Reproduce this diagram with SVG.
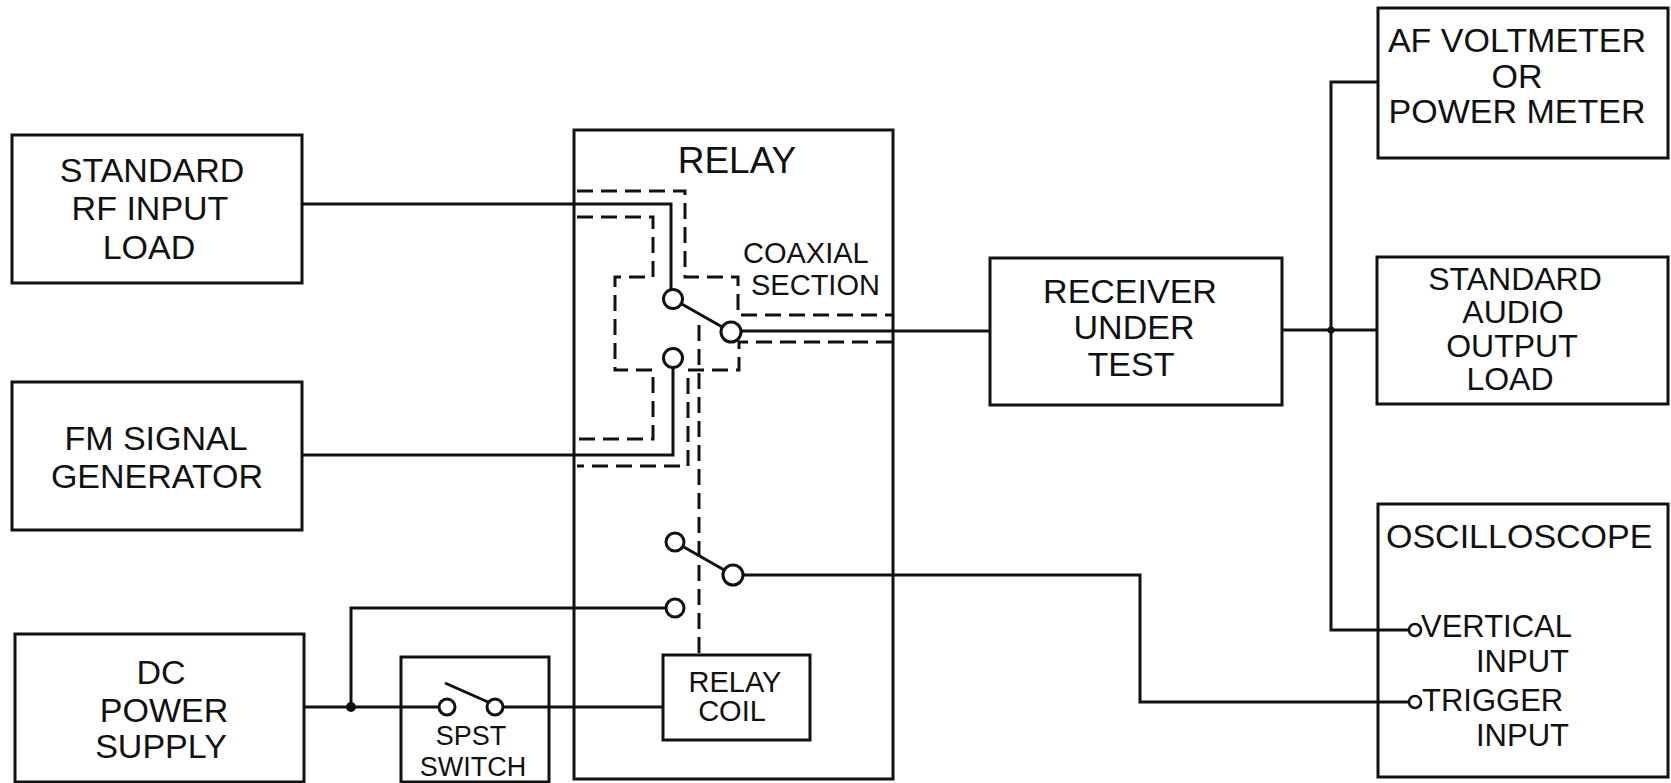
<svg xmlns="http://www.w3.org/2000/svg" width="1671" height="783" viewBox="0 0 1671 783">
<style>
.box{fill:none;stroke:#111;stroke-width:3}
.w{fill:none;stroke:#111;stroke-width:3;stroke-linejoin:miter}
.d{fill:none;stroke:#111;stroke-width:3;stroke-dasharray:16 8}
.c{fill:#fff;stroke:#111;stroke-width:3}
.t{font-family:"Liberation Sans",Arial,sans-serif;fill:#111;font-size:34px}
.m{text-anchor:middle}
.s{font-size:29px}
.k{font-size:32px}
</style>
<rect width="1671" height="783" fill="#fff"/>
<g id="connectors">
  <path class="w" d="M302,204 H671 V289"/>
  <path class="w" d="M302,455 H673 V368"/>
  <line class="w" x1="673" y1="299" x2="731" y2="332"/>
  <path class="w" d="M741,331 H990"/>
  <path class="d" d="M577,191 H685 V277 H738 V315 H892"/>
  <path class="d" d="M577,217 H653 V277 H615 V370 H653 V439 H577"/>
  <path class="d" d="M892,342 H739 V370 H688 V466 H577"/>
  <path class="d" d="M699,325 V655"/>
  <line class="w" x1="675" y1="542" x2="733" y2="575"/>
  <path class="w" d="M743,575 H1140 V702 H1409"/>
  <path class="w" d="M666,608 H351 V707"/>
  <path class="w" d="M304,707 H439"/>
  <path class="w" d="M503,707 H663"/>
  <path class="w" d="M1282,330 H1377"/>
  <path class="w" d="M1378,82 H1331 V630 H1409"/>
  <circle cx="351" cy="707" r="5" fill="#111"/>
  <circle cx="1331" cy="330" r="3.5" fill="#111"/>
</g>
<g id="rf-load">
  <rect class="box" x="12" y="135" width="290" height="148"/>
  <text class="t m" x="152" y="182">STANDARD</text>
  <text class="t m" x="150" y="220">RF INPUT</text>
  <text class="t m" x="149" y="259">LOAD</text>
</g>
<g id="fm-gen">
  <rect class="box" x="12" y="382" width="290" height="148"/>
  <text class="t m" x="156" y="450">FM SIGNAL</text>
  <text class="t m" x="157" y="488">GENERATOR</text>
</g>
<g id="dc-supply">
  <rect class="box" x="15" y="634" width="289" height="148"/>
  <text class="t m" x="161" y="684">DC</text>
  <text class="t m" x="164" y="722">POWER</text>
  <text class="t m" x="161" y="758">SUPPLY</text>
</g>
<g id="spst">
  <rect class="box" x="401" y="657" width="148" height="125"/>
  <circle class="c" cx="447" cy="707" r="8"/>
  <circle class="c" cx="495" cy="707" r="8"/>
  <line class="w" x1="445" y1="683" x2="488" y2="702"/>
  <text class="t m" x="471" y="745" style="font-size:27px">SPST</text>
  <text class="t m" x="473" y="776" style="font-size:27px">SWITCH</text>
</g>
<g id="relay">
  <rect class="box" x="574" y="130" width="319" height="649"/>
  <text class="t m" x="737" y="173" style="font-size:37px">RELAY</text>
  <text class="t s" x="743" y="263">COAXIAL</text>
  <text class="t s" x="751" y="295">SECTION</text>
  <circle class="c" cx="673" cy="299" r="9.5"/>
  <circle class="c" cx="731" cy="332" r="10"/>
  <circle class="c" cx="673" cy="358" r="9.5"/>
  <circle class="c" cx="675" cy="542" r="9"/>
  <circle class="c" cx="733" cy="575" r="10"/>
  <circle class="c" cx="675" cy="608" r="9"/>
</g>
<g id="relay-coil">
  <rect class="box" x="663" y="655" width="147" height="85"/>
  <text class="t m s" x="735" y="692">RELAY</text>
  <text class="t m s" x="732" y="721">COIL</text>
</g>
<g id="receiver">
  <rect class="box" x="990" y="258" width="292" height="147"/>
  <text class="t m" x="1130" y="303">RECEIVER</text>
  <text class="t m" x="1134" y="339">UNDER</text>
  <text class="t m" x="1131" y="376">TEST</text>
</g>
<g id="af-meter">
  <rect class="box" x="1378" y="8" width="290" height="150"/>
  <text class="t m" x="1517" y="52">AF VOLTMETER</text>
  <text class="t m" x="1517" y="88">OR</text>
  <text class="t m" x="1517" y="123">POWER METER</text>
</g>
<g id="audio-load">
  <rect class="box" x="1377" y="257" width="291" height="147"/>
  <text class="t m k" x="1515" y="290">STANDARD</text>
  <text class="t m k" x="1513" y="323">AUDIO</text>
  <text class="t m k" x="1512" y="357">OUTPUT</text>
  <text class="t m k" x="1510" y="390">LOAD</text>
</g>
<g id="oscilloscope">
  <rect class="box" x="1378" y="504" width="290" height="273"/>
  <text class="t" x="1386" y="548">OSCILLOSCOPE</text>
  <circle class="c" cx="1415" cy="630" r="6" style="stroke-width:2.5"/>
  <circle class="c" cx="1415" cy="702" r="6" style="stroke-width:2.5"/>
  <text class="t" x="1421" y="637" style="font-size:31px">VERTICAL</text>
  <text class="t" x="1476" y="672" style="font-size:31px">INPUT</text>
  <text class="t" x="1422" y="711" style="font-size:31px">TRIGGER</text>
  <text class="t" x="1476" y="746" style="font-size:31px">INPUT</text>
</g>
</svg>
